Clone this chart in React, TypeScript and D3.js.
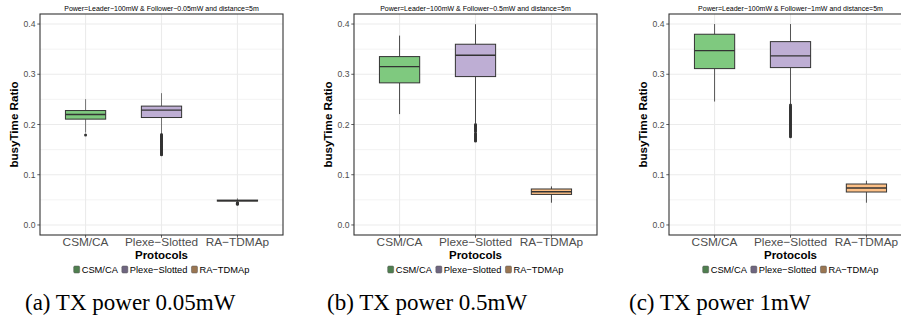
import React from "react";
import * as d3 from "d3";

const categories = ["CSM/CA", "Plexe−Slotted", "RA−TDMAp"];
const panelTitles = [
  "Power=Leader−100mW & Follower−0.05mW and distance=5m",
  "Power=Leader−100mW & Follower−0.5mW and distance=5m",
  "Power=Leader−100mW & Follower−1mW and distance=5m",
];
const captions = ["(a) TX power 0.05mW", "(b) TX power 0.5mW", "(c) TX power 1mW"];
const yTicks = [0, 0.1, 0.2, 0.3, 0.4];
const yMinor = [0.05, 0.15, 0.25, 0.35];

// [whiskerLow, q1, median, q3, whiskerHigh]
const statsA = [
  [0.184, 0.2107, 0.2199, 0.2278, 0.2505],
  [0.182, 0.2139, 0.2286, 0.2366, 0.2624],
  [0.046, 0.0475, 0.0485, 0.0495, 0.053],
];
const outliersA = [
  [0.179],
  [0.180, 0.178, 0.176, 0.175, 0.173, 0.171, 0.170, 0.168, 0.166, 0.165, 0.163, 0.161, 0.160, 0.158, 0.156, 0.155, 0.153, 0.151, 0.150, 0.148, 0.146, 0.145, 0.143, 0.141, 0.140],
  [0.044, 0.043, 0.042, 0.041],
];
const statsB = [
  [0.2207, 0.2829, 0.3153, 0.3352, 0.377],
  [0.203, 0.2954, 0.338, 0.3598, 0.3996],
  [0.0443, 0.0608, 0.066, 0.0716, 0.0767],
];
const outliersB = [
  [],
  [0.200, 0.198, 0.196, 0.194, 0.192, 0.190, 0.188, 0.186, 0.182, 0.180, 0.178, 0.176, 0.174, 0.172, 0.170, 0.168, 0.167],
  [],
];
const statsC = [
  [0.2457, 0.3113, 0.3471, 0.3797, 0.400],
  [0.240, 0.3133, 0.3366, 0.365, 0.400],
  [0.0443, 0.0656, 0.0736, 0.0815, 0.0881],
];
const outliersC = [
  [],
  [0.2388, 0.236, 0.234, 0.232, 0.230, 0.228, 0.226, 0.224, 0.222, 0.220, 0.218, 0.216, 0.214, 0.212, 0.210, 0.208, 0.206, 0.204, 0.202, 0.200, 0.198, 0.196, 0.194, 0.192, 0.190, 0.188, 0.186, 0.184, 0.182, 0.180, 0.1775, 0.1757],
  [],
];

const fills = ["#7fc97f", "#beaed4", "#fdc086"];
const keyFills = ["#4f7f4f", "#6f6680", "#9a7652"];

const panels = [
  { stats: statsA, outliers: outliersA, left: 40, title: panelTitles[0], caption: captions[0], capX: 25, whisker: "#666" },
  { stats: statsB, outliers: outliersB, left: 354, title: panelTitles[1], caption: captions[1], capX: 327, whisker: "#333" },
  { stats: statsC, outliers: outliersC, left: 669, title: panelTitles[2], caption: captions[2], capX: 629, whisker: "#444" },
];

const SANS = "'Liberation Sans', Arial, Helvetica, sans-serif";
const SERIF = "'Liberation Serif', 'Times New Roman', serif";

function measure(text: string, font: string): number {
  const c = document.createElement("canvas").getContext("2d");
  if (!c) return text.length * 5;
  c.font = font;
  return c.measureText(text).width;
}

const TOP = 14;
const BOTTOM = 235;
const PW = 243;

function Panel({ p }: { p: typeof panels[number] }) {
  const x = d3.scalePoint<string>().domain(categories).range([p.left, p.left + PW]).padding(0.6);
  const y = d3.scaleLinear().domain([-0.02, 0.42]).range([BOTTOM, TOP]);
  const step = x.step();
  const bw = step * 0.53;
  const cx = p.left + PW / 2;

  const legendFont = `9.3px ${SANS}`;
  const keyW = 6;
  const items = categories.map((c) => ({ c, w: measure(c, legendFont) }));
  const total = items.reduce((s, it) => s + keyW + 2 + it.w, 0) + 4 * (items.length - 1);
  let lx = cx - total / 2;
  const legendItems = items.map((it, i) => {
    const pos = lx;
    lx += keyW + 2 + it.w + 4;
    return { ...it, x: pos, i };
  });
  const ly = 269.5;

  return (
    <g>
      <defs>
        <clipPath id={`clip-${p.left}`}>
          <rect x={p.left} y={TOP} width={PW} height={BOTTOM - TOP} />
        </clipPath>
      </defs>
      <g clipPath={`url(#clip-${p.left})`}>
        <rect x={p.left} y={TOP} width={PW} height={BOTTOM - TOP} fill="#fff" />
        {yMinor.map((t) => (
          <line key={"mn" + t} x1={p.left} x2={p.left + PW} y1={y(t)} y2={y(t)} stroke="#ebebeb" strokeWidth={0.6} />
        ))}
        {yTicks.map((t) => (
          <line key={"mj" + t} x1={p.left} x2={p.left + PW} y1={y(t)} y2={y(t)} stroke="#ebebeb" strokeWidth={1.1} />
        ))}
        {categories.map((c) => (
          <line key={"vx" + c} x1={x(c)} x2={x(c)} y1={TOP} y2={BOTTOM} stroke="#ebebeb" strokeWidth={1.1} />
        ))}
        {categories.map((c, i) => {
          const [lo, q1, med, q3, hi] = p.stats[i];
          const xc = x(c) as number;
          return (
            <g key={"b" + c}>
              <line x1={xc} x2={xc} y1={y(hi)} y2={y(q3)} stroke={p.whisker} strokeWidth={0.9} />
              <line x1={xc} x2={xc} y1={y(q1)} y2={y(lo)} stroke={p.whisker} strokeWidth={0.9} />
              <rect x={xc - bw / 2} y={y(q3)} width={bw} height={Math.max(y(q1) - y(q3), 0.5)} fill={fills[i]} stroke="#333" strokeWidth={1} />
              <line x1={xc - bw / 2} x2={xc + bw / 2} y1={y(med)} y2={y(med)} stroke="#333" strokeWidth={1.4} />
              {p.outliers[i].map((v, k) => (
                <circle key={k} cx={xc} cy={y(v)} r={1.5} fill="#333" />
              ))}
            </g>
          );
        })}
      </g>
      <rect x={p.left} y={TOP} width={PW} height={BOTTOM - TOP} fill="none" stroke="#333" strokeWidth={1.1} />
      {yTicks.map((t) => (
        <g key={"yt" + t}>
          <line x1={p.left - 2.7} x2={p.left} y1={y(t)} y2={y(t)} stroke="#333" strokeWidth={0.8} />
          <text x={p.left - 4.5} y={y(t)} dy="0.35em" textAnchor="end" fontFamily={SANS} fontSize={8.6} fill="#4d4d4d">
            {d3.format(".1f")(t)}
          </text>
        </g>
      ))}
      {categories.map((c) => (
        <g key={"xt" + c}>
          <line x1={x(c)} x2={x(c)} y1={BOTTOM} y2={BOTTOM + 2.7} stroke="#333" strokeWidth={0.8} />
          <text x={x(c)} y={245.8} textAnchor="middle" fontFamily={SANS} fontSize={11.8} fill="#4d4d4d">
            {c}
          </text>
        </g>
      ))}
      <text x={cx} y={258.6} textAnchor="middle" fontFamily={SANS} fontWeight="bold" fontSize={11.5} fill="#000">
        Protocols
      </text>
      <text
        transform={`translate(${p.left - 22.5},${(TOP + BOTTOM) / 2}) rotate(-90)`}
        textAnchor="middle"
        fontFamily={SANS}
        fontWeight="bold"
        fontSize={11.6}
        fill="#000"
      >
        busyTime Ratio
      </text>
      <text x={cx} y={10.5} textAnchor="middle" fontFamily={SANS} fontSize={7} fill="#000">
        {p.title}
      </text>
      {legendItems.map((it) => (
        <g key={"lg" + it.c}>
          <rect x={it.x} y={ly - 3.5} width={keyW} height={7} rx={1.2} fill={keyFills[it.i]} stroke="#555" strokeWidth={0.5} />
          <text x={it.x + keyW + 2} y={ly} dy="0.35em" fontFamily={SANS} fontSize={9.3} fill="#000">
            {it.c}
          </text>
        </g>
      ))}
      <text x={p.capX} y={310} fontFamily={SERIF} fontSize={23} fill="#000">
        {p.caption}
      </text>
    </g>
  );
}

export default function App() {
  return (
    <svg
      width={901}
      height={320}
      viewBox="0 0 901 320"
      style={{ position: "absolute", left: 0, top: 0, background: "#fff" }}
    >
      <rect x={0} y={0} width={901} height={320} fill="#fff" />
      {panels.map((p) => (
        <Panel key={p.left} p={p} />
      ))}
    </svg>
  );
}
